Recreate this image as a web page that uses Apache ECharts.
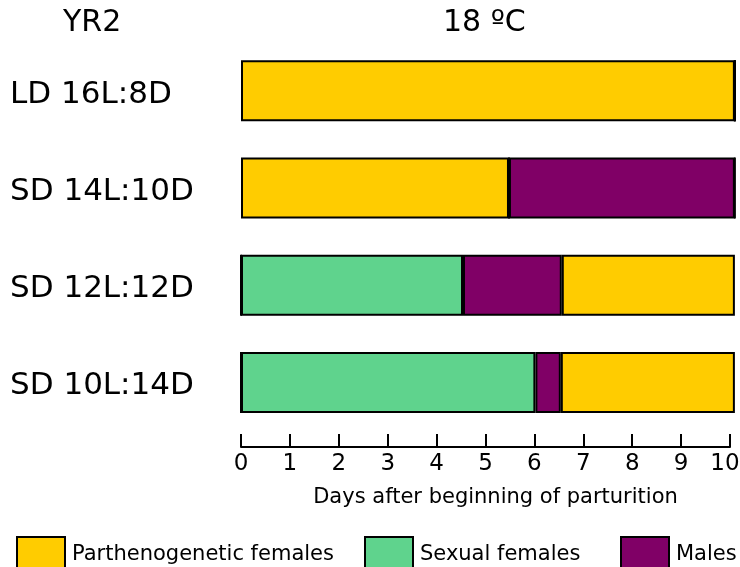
<!DOCTYPE html>
<html>
<head>
<meta charset="utf-8">
<script src="https://cdn.jsdelivr.net/npm/echarts@6/dist/echarts.min.js"></script>
<style>
  html, body { margin: 0; padding: 0; background: #fff; }
  #chart { width: 740px; height: 567px; }
</style>
</head>
<body>
<div id="chart"></div>
<script>
// Photoperiod treatments, top to bottom
const categories = ['LD 16L:8D', 'SD 14L:10D', 'SD 12L:12D', 'SD 10L:14D'];

// Segment lengths (days) for each treatment, stacked left to right
const parthEarly = [10.1, 5.48, 0, 0];     // parthenogenetic females at the start
const sexualFemales = [0, 0, 4.54, 6.02];
const males = [0, 4.62, 2.02, 0.52];
const parthLate = [0, 0, 3.54, 3.56];      // parthenogenetic females after the sexual phase

const xTicks = [0, 1, 2, 3, 4, 5, 6, 7, 8, 9, 10];

const COLORS = {
  parth: '#ffcc00',
  sexual: '#5fd38d',
  males: '#800066'
};
const FONT = 'DejaVu Sans';

function seg(name, data, color) {
  return {
    name: name,
    type: 'bar',
    stack: 'days',
    data: data,
    barWidth: 61,
    clip: false,
    itemStyle: { color: color, borderColor: '#000', borderWidth: 2 },
    emphasis: { disabled: true }
  };
}

const chart = echarts.init(document.getElementById('chart'), null, { renderer: 'canvas' });

const legendBase = {
  orient: 'horizontal',
  top: 531,
  itemWidth: 48,
  itemHeight: 36,
  icon: 'rect',
  selectedMode: false,
  textStyle: { fontFamily: FONT, fontSize: 21, color: '#000', padding: [0, 0, 0, 2] },
  itemStyle: { borderColor: '#000', borderWidth: 2 }
};

const tickFont = { fontFamily: FONT, fontSize: 23, color: '#000' };
const catFont = { fontFamily: FONT, fontSize: 31, color: '#000' };

chart.setOption({
  animation: false,
  backgroundColor: '#fff',
  title: [
    { text: 'YR2', left: 58, top: 3, textStyle: { fontFamily: FONT, fontSize: 30, fontWeight: 'normal', color: '#000' } },
    { text: '18 ºC', left: 438, top: 3, textStyle: { fontFamily: FONT, fontSize: 30, fontWeight: 'normal', color: '#000' } }
  ],
  legend: [
    Object.assign({}, legendBase, { left: 11, data: ['Parthenogenetic females'] }),
    Object.assign({}, legendBase, { left: 359, data: ['Sexual females'] }),
    Object.assign({}, legendBase, { left: 615, data: ['Males'] })
  ],
  grid: { left: 241, right: 10, top: 42, bottom: 136, containLabel: false, outerBoundsMode: 'none' },
  xAxis: {
    type: 'value',
    min: 0,
    max: 10,
    interval: 1,
    offset: 16,
    name: 'Days after beginning of parturition',
    nameLocation: 'middle',
    nameGap: 40,
    nameTextStyle: { fontFamily: FONT, fontSize: 21, color: '#000', padding: [0, 0, 0, 20] },
    axisLine: { show: true, lineStyle: { color: '#000', width: 2 } },
    axisTick: { show: true, inside: true, length: 13, lineStyle: { color: '#000', width: 2 } },
    axisLabel: {
      fontFamily: FONT, fontSize: 23, color: '#000', margin: 6,
      // the last label is nudged left so it stays inside the canvas
      formatter: v => {
        if (xTicks.indexOf(v) < 0) return '';
        return v === xTicks[xTicks.length - 1] ? '{last|' + v + '}' : String(v);
      },
      rich: { last: Object.assign({ padding: [0, 10, 0, 0] }, tickFont) }
    },
    splitLine: { show: false }
  },
  yAxis: {
    type: 'category',
    data: categories,
    inverse: true,
    axisLine: { show: false },
    axisTick: { show: false },
    axisLabel: {
      fontFamily: FONT, fontSize: 31, color: '#000', align: 'left', margin: 231,
      formatter: v => '{c|' + v + '}',
      rich: { c: Object.assign({ padding: [8, 0, 0, 0] }, catFont) }
    }
  },
  series: [
    seg('Parthenogenetic females', parthEarly, COLORS.parth),
    seg('Sexual females', sexualFemales, COLORS.sexual),
    seg('Males', males, COLORS.males),
    seg('Parthenogenetic females', parthLate, COLORS.parth)
  ]
});
</script>
</body>
</html>
